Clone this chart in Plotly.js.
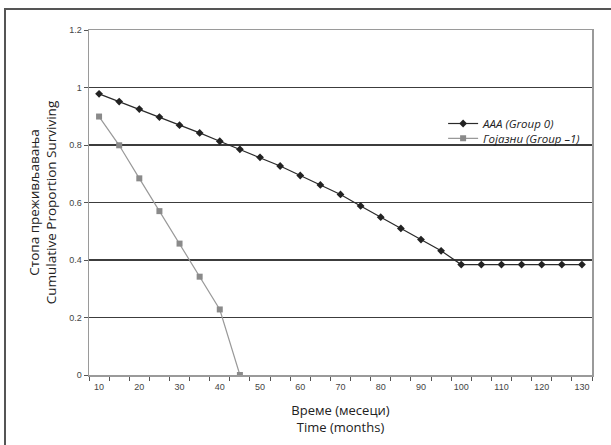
<!DOCTYPE html>
<html>
<head>
<meta charset="utf-8">
<script src="https://cdn.plot.ly/plotly-3.0.1.min.js"></script>
<style>html,body{margin:0;padding:0;background:#fff;}#chart{width:611px;height:445px;}</style>
</head>
<body>
<div id="chart"></div>
<script>
const months = [10,15,20,25,30,35,40,45,50,55,60,65,70,75,80,85,90,95,100,105,110,115,120,125,130];
const group0 = [0.978,0.951,0.925,0.897,0.869,0.842,0.813,0.785,0.757,0.727,0.694,0.661,0.628,0.588,0.549,0.510,0.471,0.432,0.384,0.384,0.384,0.384,0.384,0.384,0.384];
const monthsObese = [10,15,20,25,30,35,40,45];
const group1 = [0.899,0.799,0.684,0.570,0.457,0.342,0.228,0];
const xTicks = [10,20,30,40,50,60,70,80,90,100,110,120,130];
const yTicks = [0,0.2,0.4,0.6,0.8,1,1.2];
const yTickText = ['0','0.2','0.4','0.6','0.8','1','1.2'];
const name0 = 'AAA (Group 0)';
const name1 = 'Гојазни (Group –1)';

const traces = [
  {x: months, y: group0, name: name0, type: 'scatter', mode: 'lines+markers', legend: 'legend',
   line: {color: '#2a2a2a', width: 1.2},
   marker: {symbol: 'diamond', size: 6, color: '#222'}},
  {x: monthsObese, y: group1, name: name1, type: 'scatter', mode: 'lines+markers', legend: 'legend2',
   line: {color: '#999', width: 1.2},
   marker: {symbol: 'square', size: 6, color: '#8a8a8a'}}
];

const legendFont = {size: 11.5, family: 'Open Sans, Noto Sans, sans-serif', color: '#222', style: 'italic'};
const layout = {
  width: 611, height: 445,
  margin: {l: 89, r: 19, t: 30, b: 70},
  paper_bgcolor: '#fff', plot_bgcolor: '#fff',
  showlegend: true,
  font: {family: 'Arial, Liberation Sans, sans-serif', color: '#333'},
  xaxis: {
    range: [7.5, 132.5], tickmode: 'array', tickvals: xTicks, ticks: '',
    ticklabelstandoff: 3,
    tickfont: {size: 9, color: '#444', family: 'Arial, Liberation Sans, sans-serif'},
    showgrid: false, zeroline: false,
    showline: true, linecolor: '#9a9a9a', linewidth: 1.5, mirror: true,
    minor: {tick0: 7.5, dtick: 5, ticks: 'outside', ticklen: 4, tickcolor: '#555', tickwidth: 1, showgrid: false},
    title: {text: 'Време (месеци)<br>Time (months)', standoff: 14,
            font: {size: 13, family: 'Open Sans, Noto Sans, sans-serif', color: '#222'}}
  },
  yaxis: {
    range: [0, 1.2], tickmode: 'array', tickvals: yTicks, ticktext: yTickText,
    ticks: 'outside', ticklen: 4, tickcolor: '#555', tickwidth: 1,
    tickfont: {size: 9, color: '#444', family: 'Arial, Liberation Sans, sans-serif'},
    showgrid: true, gridcolor: '#3c3c3c', gridwidth: 1.6, zeroline: false,
    showline: true, linecolor: '#9a9a9a', linewidth: 1.5, mirror: true,
    title: {text: 'Стопа преживљавања<br>Cumulative Proportion Surviving', standoff: 9,
            font: {size: 13.5, family: 'Open Sans, Noto Sans, sans-serif', color: '#222'}}
  },
  legend: {
    x: 0.704, y: 0.771, xanchor: 'left', yanchor: 'top',
    bgcolor: 'rgba(0,0,0,0)', borderwidth: 0, font: legendFont
  },
  legend2: {
    x: 0.704, y: 0.728, xanchor: 'left', yanchor: 'top',
    bgcolor: 'rgba(0,0,0,0)', borderwidth: 0, font: legendFont
  },
  shapes: [{type: 'rect', xref: 'paper', yref: 'paper', x0: -0.167, x1: 1.2, y0: -0.4, y1: 1.0609,
            line: {color: '#555', width: 2}, fillcolor: 'rgba(0,0,0,0)', layer: 'below'}]
};

Plotly.newPlot('chart', traces, layout, {displayModeBar: false, staticPlot: true});
</script>
</body>
</html>
